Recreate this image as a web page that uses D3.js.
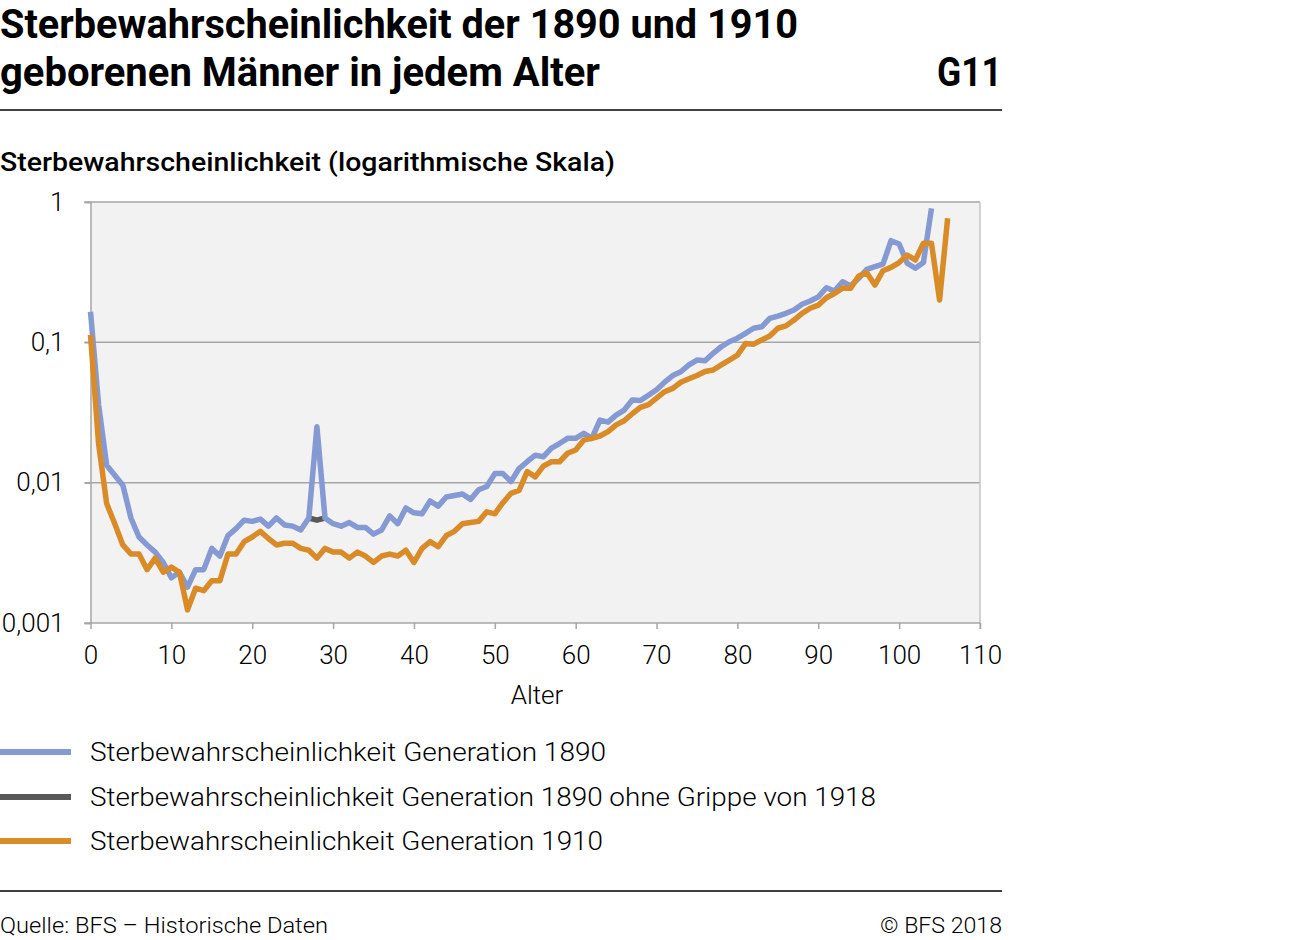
<!DOCTYPE html>
<html>
<head>
<meta charset="utf-8">
<script src="https://cdn.jsdelivr.net/npm/d3@7"></script>
<style>
  html, body { margin: 0; padding: 0; background: #fff; }
  svg { display: block; font-family: Roboto, "Noto Sans", sans-serif; }
</style>
</head>
<body>
<svg id="chart" width="1299" height="940"></svg>
<script>
// ---- Data ----
const ages1890 = d3.range(0, 105);
const gen1890 = [
  0.165, 0.036, 0.0133, 0.0113, 0.0096, 0.0056, 0.0041, 0.0036, 0.0032, 0.0027,
  0.0021, 0.0023, 0.0018, 0.0024, 0.0024, 0.0034, 0.0030, 0.0042, 0.0047, 0.0054,
  0.0053, 0.0055, 0.0049, 0.0056, 0.0050, 0.0049, 0.0046, 0.0056, 0.025, 0.0056,
  0.0051, 0.0049, 0.0052, 0.0048, 0.0048, 0.0043, 0.0046, 0.0058, 0.0051, 0.0066,
  0.0061, 0.0060, 0.0074, 0.0068, 0.0079, 0.0081, 0.0083, 0.0076, 0.0089, 0.0094,
  0.0116, 0.0116, 0.0102, 0.0126, 0.0141, 0.0157, 0.0153, 0.0176, 0.019, 0.0207,
  0.0207, 0.0225, 0.0207, 0.0279, 0.0270, 0.0303, 0.0329, 0.0388, 0.0385, 0.042,
  0.046, 0.052, 0.058, 0.0617, 0.069, 0.0748, 0.074, 0.0835, 0.093, 0.101,
  0.107, 0.116, 0.126, 0.129, 0.148, 0.154, 0.161, 0.17, 0.187, 0.197,
  0.211, 0.245, 0.232, 0.270, 0.252, 0.286, 0.331, 0.346, 0.361, 0.53,
  0.502, 0.366, 0.337, 0.37, 0.90
];
const agesNoFlu = [27, 28, 29];
const gen1890NoFlu = [0.0056, 0.0054, 0.0056];
const ages1910 = d3.range(0, 107);
const gen1910 = [
  0.113, 0.019, 0.0071, 0.0051, 0.0036, 0.0031, 0.0031, 0.0024, 0.0029, 0.0023,
  0.0025, 0.0023, 0.00124, 0.00177, 0.0017, 0.0020, 0.0020, 0.0031, 0.0031, 0.0038,
  0.0041, 0.0045, 0.0040, 0.0036, 0.0037, 0.0037, 0.0034, 0.0033, 0.0029, 0.0034,
  0.0032, 0.0032, 0.0029, 0.0032, 0.0030, 0.0027, 0.0030, 0.0031, 0.0030, 0.0033,
  0.0027, 0.0034, 0.0038, 0.0035, 0.0042, 0.0045, 0.0051, 0.0052, 0.0053, 0.0062,
  0.0060, 0.0072, 0.0084, 0.0088, 0.0120, 0.011, 0.0131, 0.0141, 0.0141, 0.0162,
  0.0171, 0.0201, 0.0207, 0.0215, 0.0231, 0.0258, 0.0276, 0.031, 0.0344, 0.036,
  0.040, 0.0445, 0.047, 0.052, 0.055, 0.058, 0.062, 0.0635, 0.069, 0.0748,
  0.081, 0.098, 0.097, 0.104, 0.111, 0.126, 0.131, 0.144, 0.161, 0.175,
  0.184, 0.208, 0.223, 0.243, 0.243, 0.297, 0.313, 0.256, 0.324, 0.342,
  0.37, 0.419, 0.386, 0.508, 0.508, 0.20, 0.765
];
const xTicks = [0, 10, 20, 30, 40, 50, 60, 70, 80, 90, 100, 110];
const yTicks = [0.001, 0.01, 0.1, 1];
const yTickLabels = ["0,001", "0,01", "0,1", "1"];
const seriesNames = [
  "Sterbewahrscheinlichkeit Generation 1890",
  "Sterbewahrscheinlichkeit Generation 1890 ohne Grippe von 1918",
  "Sterbewahrscheinlichkeit Generation 1910"
];
const seriesColors = ["#8599d3", "#595959", "#d88b26"];

// ---- Layout ----
const svg = d3.select("#chart");
const L = 90.5, R = 980, T = 202, B = 623;
const x = d3.scaleLinear().domain([0, 110]).range([L, R]);
const y = d3.scaleLog().domain([0.001, 1]).range([B, T]);

function fitText(sel, len) {
  sel.attr("textLength", len).attr("lengthAdjust", "spacingAndGlyphs");
  return sel;
}
// Title
fitText(svg.append("text").attr("x", 0).attr("y", 38)
  .attr("font-size", 41).attr("font-weight", 700).attr("fill", "#000")
  .text("Sterbewahrscheinlichkeit der 1890 und 1910"), 798);
fitText(svg.append("text").attr("x", 0).attr("y", 86)
  .attr("font-size", 41).attr("font-weight", 700).attr("fill", "#000")
  .text("geborenen Männer in jedem Alter"), 600);
fitText(svg.append("text").attr("x", 937).attr("y", 86)
  .attr("font-size", 41).attr("font-weight", 700).attr("fill", "#000")
  .text("G11"), 65);

svg.append("line").attr("x1", 0).attr("x2", 1002).attr("y1", 110).attr("y2", 110)
  .attr("stroke", "#000").attr("stroke-width", 1.5);

fitText(svg.append("text").attr("x", 0).attr("y", 171)
  .attr("font-size", 26).attr("font-weight", 500).attr("fill", "#000")
  .text("Sterbewahrscheinlichkeit (logarithmische Skala)"), 615);

// Plot background
svg.append("rect").attr("x", L).attr("y", T).attr("width", R - L).attr("height", B - T)
  .attr("fill", "#f2f2f2");

// Gridlines
svg.append("g").selectAll("line").data(yTicks.slice(1))
  .join("line")
  .attr("x1", L - 6).attr("x2", R)
  .attr("y1", d => y(d)).attr("y2", d => y(d))
  .attr("stroke", "#a6a6a6").attr("stroke-width", 1.5);

// Right border
svg.append("line").attr("x1", R).attr("x2", R).attr("y1", T).attr("y2", B + 6)
  .attr("stroke", "#c4c4c4").attr("stroke-width", 1.5);

// Y axis
const yAxis = d3.axisLeft(y).tickValues(yTicks)
  .tickFormat((d, i) => yTickLabels[i]).tickSize(6).tickPadding(20);
const gy = svg.append("g").attr("transform", `translate(${L},0)`).call(yAxis);
gy.select(".domain").attr("stroke", "#a6a6a6").attr("stroke-width", 1.5);
gy.selectAll(".tick line").attr("stroke", "#a6a6a6").attr("stroke-width", 1.5);
gy.selectAll(".tick text").attr("font-size", 26).attr("font-weight", 300)
  .attr("fill", "#000").attr("font-family", "Roboto");

// X axis
const xAxis = d3.axisBottom(x).tickValues(xTicks).tickSize(6).tickPadding(17);
const gx = svg.append("g").attr("transform", `translate(0,${B})`).call(xAxis);
gx.select(".domain").attr("stroke", "#a6a6a6").attr("stroke-width", 1.5)
  .attr("d", `M${L - 6},0H${R}`);
gx.selectAll(".tick line").attr("stroke", "#a6a6a6").attr("stroke-width", 1.5);
gx.selectAll(".tick text").attr("font-size", 26).attr("font-weight", 300)
  .attr("fill", "#000").attr("font-family", "Roboto");

svg.append("text").attr("x", 537).attr("y", 704).attr("text-anchor", "middle")
  .attr("font-size", 26).attr("font-weight", 300).attr("fill", "#000")
  .text("Alter");

// Lines
const line = d3.line().x(d => x(d[0])).y(d => y(d[1]));
const data1890 = ages1890.map((a, i) => [a, gen1890[i]]);
const dataNoFlu = agesNoFlu.map((a, i) => [a, gen1890NoFlu[i]]);
const data1910 = ages1910.map((a, i) => [a, gen1910[i]]);

svg.append("path").datum(dataNoFlu).attr("d", line)
  .attr("fill", "none").attr("stroke", seriesColors[1]).attr("stroke-width", 5.5)
  .attr("stroke-linejoin", "round");
svg.append("path").datum(data1890).attr("d", line)
  .attr("fill", "none").attr("stroke", seriesColors[0]).attr("stroke-width", 5.5)
  .attr("stroke-linejoin", "round");
svg.append("path").datum(data1910).attr("d", line)
  .attr("fill", "none").attr("stroke", seriesColors[2]).attr("stroke-width", 5.5)
  .attr("stroke-linejoin", "round");

// Legend
const legendY = [752, 797, 841];
const legendLen = [516, 786, 513];
const lg = svg.append("g");
seriesNames.forEach((name, i) => {
  lg.append("line").attr("x1", 0).attr("x2", 71)
    .attr("y1", legendY[i]).attr("y2", legendY[i])
    .attr("stroke", seriesColors[i]).attr("stroke-width", 6);
  fitText(lg.append("text").attr("x", 90).attr("y", legendY[i] + 9)
    .attr("font-size", 25).attr("font-weight", 300).attr("fill", "#000")
    .text(name), legendLen[i]);
});

// Footer
svg.append("line").attr("x1", 0).attr("x2", 1002).attr("y1", 891).attr("y2", 891)
  .attr("stroke", "#000").attr("stroke-width", 1.5);
fitText(svg.append("text").attr("x", 0).attr("y", 933)
  .attr("font-size", 22).attr("font-weight", 300).attr("fill", "#000")
  .text("Quelle: BFS – Historische Daten"), 328);
fitText(svg.append("text").attr("x", 1002).attr("y", 933).attr("text-anchor", "end")
  .attr("font-size", 22).attr("font-weight", 300).attr("fill", "#000")
  .text("© BFS 2018"), 122);
</script>
</body>
</html>
